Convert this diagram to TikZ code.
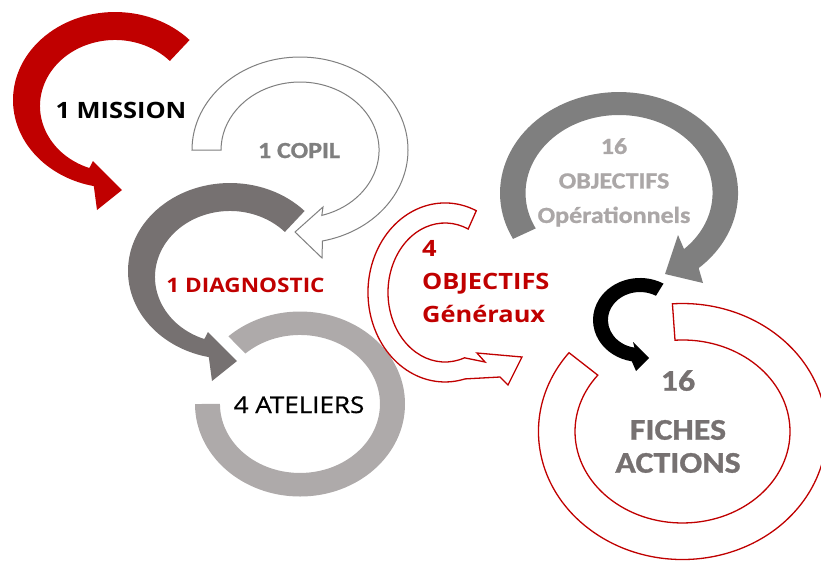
\documentclass[tikz,border=0pt]{standalone}
\usepackage{fontspec}
\setmainfont{Open Sans}
\newfontfamily\segoe{Open Sans}[FakeStretch=1.13, BoldFont={Open Sans Bold}]
\newfontfamily\segoemed{Open Sans}[FakeStretch=1.13, FakeBold=0.8]
\newfontfamily\calib{Carlito}[FakeStretch=1.13, BoldFont={Carlito Bold}, BoldFeatures={FakeBold=1}]
\definecolor{DarkRed}{HTML}{C00000}
\definecolor{DiagGray}{HTML}{767171}
\definecolor{AtelGray}{HTML}{AEAAAA}
\definecolor{OpGray}{HTML}{7F7F7F}
\definecolor{OpText}{HTML}{ABA7A7}

% hook shaped arrow, outer centre at (0,0)
\newcommand\hookarrow{(74.6,-60) arc[start angle=-43, end angle=-258, x radius=102, y radius=88]
  -- (-18,110) -- (7,90) -- (-22,61)
  -- (-25.65,68) arc[start angle=-250, end angle=-43, x radius=75, y radius=66] -- cycle}

\begin{document}
\begin{tikzpicture}[x=1pt, y=-1pt, line join=miter,
  redline/.style={draw=DarkRed, line width=1.3pt, fill=white},
  greyline/.style={draw=OpGray, line width=1pt, fill=white},
  label/.style={inner sep=0pt, anchor=base}]
\clip (0,0) rectangle (821,563);

% 1 mission
\begin{scope}[shift={(115,100)}]
\fill[DarkRed] \hookarrow;
\end{scope}

% 1 copil
\path[greyline] (192,150) arc[start angle=-180, end angle=78, x radius=108, y radius=93]
  -- (322,258) -- (295,232) -- (323,207)
  -- (321.8,215.4) arc[start angle=74, end angle=-180, x radius=79, y radius=68] -- cycle;

% 4 ateliers
\fill[AtelGray] (195,404) arc[start angle=-180, end angle=-493, x radius=105, y radius=92.5]
  -- (245.4,353.5) arc[start angle=-493, end angle=-180, x radius=80, y radius=69] -- cycle;

% 1 diagnostic
\begin{scope}[shift={(230,271)}]
\fill[DiagGray] \hookarrow;
\end{scope}

% 4 objectifs generaux
\path[redline] (476.3,210.7) arc[start angle=-66, end angle=-285, x radius=77, y radius=89.5]
  -- (500,377) -- (508,385) -- (522,357) -- (477,353) -- (485,362)
  -- (464.5,357.8) arc[start angle=-290, end angle=-66, x radius=57, y radius=69.5] -- cycle;

% 16 objectifs operationnels
\fill[OpGray] (513,238.9) arc[start angle=-207, end angle=48, x radius=119, y radius=101]
  -- (703,283) -- (665,274) -- (678,235)
  -- (684,249.1) arc[start angle=46, end angle=-207, x radius=93.5, y radius=78] -- cycle;

% 16 fiches actions
\path[redline] (569,352.7) arc[start angle=-142, end angle=-454, x radius=144, y radius=128]
  -- (675,340.2) arc[start angle=-454, end angle=-142, x radius=107.5, y radius=91.5] -- cycle;

% small black loop
\fill[black] (663.5,283.6) arc[start angle=-60, end angle=-260, x radius=47, y radius=42]
  -- (636,371) -- (649,358) -- (633,342)
  -- (634.4,347.6) arc[start angle=-260, end angle=-60, x radius=32, y radius=28] -- cycle;

% texts
\node[label, font=\segoe\bfseries\fontsize{22.5}{27}\selectfont] (mission) at (121,118.3) {1 MISSION};
\node[label, OpGray, font=\calib\bfseries\fontsize{23}{28}\selectfont] (copil) at (299,158) {1 COPIL};
\node[label, DarkRed, font=\segoe\bfseries\fontsize{20}{24}\selectfont] (diag) at (245.5,292) {1 DIAGNOSTIC};
\node[label, font=\segoemed\fontsize{23}{28}\selectfont] (ateliers) at (299,413) {4 ATELIERS};
\node[label, DarkRed, anchor=north west, align=left, font=\segoe\bfseries\fontsize{22.5}{33}\selectfont]
  (objgen) at (422,240) {4\\OBJECTIFS\\Généraux};
\node[label, OpText, anchor=north, align=center, font=\calib\bfseries\fontsize{23}{34.5}\selectfont]
  (objop) at (614,138) {16\\OBJECTIFS\\Opérationnels};
\node[label, DiagGray, anchor=north, align=center, font=\calib\bfseries\fontsize{30}{33}\selectfont]
  (fiches) at (678,370) {16\\[16pt]FICHES\\ACTIONS};
\end{tikzpicture}
\end{document}
